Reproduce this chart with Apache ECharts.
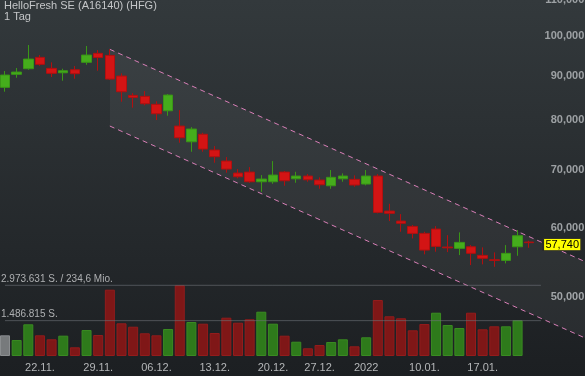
<!DOCTYPE html>
<html>
<head>
<meta charset="utf-8">
<script src="https://cdn.jsdelivr.net/npm/echarts@6/dist/echarts.min.js"></script>
<style>
  html, body { margin: 0; padding: 0; background: #25292c; }
  #main { width: 585px; height: 376px; background: linear-gradient(#33393c, #1c1f22); }
</style>
</head>
<body>
<div id="main"></div>
<script>
// trading days (17.11.2021 - 21.01.2022)
const dates = ['17.11.','18.11.','19.11.','22.11.','23.11.','24.11.','25.11.','26.11.',
  '29.11.','30.11.','01.12.','02.12.','03.12.','06.12.','07.12.','08.12.','09.12.','10.12.',
  '13.12.','14.12.','15.12.','16.12.','17.12.','20.12.','21.12.','22.12.','23.12.',
  '27.12.','28.12.','29.12.','30.12.','03.01.','04.01.','05.01.','06.01.','07.01.',
  '10.01.','11.01.','12.01.','13.01.','14.01.','17.01.','18.01.','19.01.','20.01.','21.01.'];

const tickLabels = {'22.11.':'22.11.','29.11.':'29.11.','06.12.':'06.12.','13.12.':'13.12.',
  '20.12.':'20.12.','27.12.':'27.12.','03.01.':'2022','10.01.':'10.01.','17.01.':'17.01.'};

const opens  = [87.27,90.34,91.70,94.51,91.79,90.72,91.45,93.27,95.53,95.01,89.93,85.42,85.20,83.42,82.00,78.73,
  75.51,77.03,73.87,71.73,69.48,69.66,67.89,67.89,69.66,68.43,68.93,68.20,67.17,68.43,68.32,67.48,
  68.93,62.80,61.15,60.29,59.18,59.87,57.07,56.87,57.11,55.82,55.17,55.08,57.11,57.83];
const closes = [90.17,90.89,94.08,92.77,90.58,91.21,90.49,95.09,94.47,89.21,86.26,84.97,83.55,81.35,85.49,76.32,
  78.11,74.06,72.56,70.22,68.80,67.89,68.38,69.11,68.07,68.93,68.25,67.35,68.69,68.93,67.30,68.93,
  62.58,62.42,60.78,59.18,56.61,57.17,56.95,57.78,56.12,55.38,55.08,56.12,58.81,57.74];
const lows   = [86.26,89.52,91.45,92.43,89.69,88.82,89.29,92.67,91.21,88.98,83.99,82.66,83.19,80.00,80.92,75.31,
  73.53,73.53,71.41,69.54,68.51,67.71,66.11,67.53,67.17,67.71,67.89,66.64,66.64,67.89,66.99,67.24,
  62.42,61.15,59.44,58.40,55.97,56.36,56.31,55.86,54.40,54.50,54.15,54.64,55.76,56.96];
const highs  = [91.14,91.87,97.67,95.09,93.27,91.70,92.35,97.41,96.37,96.55,90.58,85.95,86.41,84.09,85.72,82.15,
  78.52,77.34,74.65,72.50,70.22,70.59,69.11,71.73,69.85,69.72,69.29,68.69,70.04,69.42,69.06,70.04,
  69.29,64.03,62.30,60.51,59.44,60.34,58.91,59.34,57.37,57.02,56.27,57.37,59.71,58.03];

// volume in shares, colour: 1 up, -1 down, 0 unchanged
const volumes = [870000,673000,1333000,870000,702000,855000,366000,1094000,883000,2789000,1375000,1232000,
  955000,870000,1136000,2973631,1430000,1359000,967000,1611000,1401000,1544000,1863000,1359000,854000,
  601000,324000,463000,589000,702000,408000,787000,2355000,1670000,1586000,1081000,1346000,1821000,
  1304000,1178000,1821000,1123000,1249000,1249000,1502000];
const volDir = [0,1,1,-1,-1,1,-1,1,-1,-1,-1,-1,-1,-1,1,-1,1,-1,-1,-1,-1,-1,1,1,-1,1,-1,-1,1,1,-1,1,
  -1,-1,-1,-1,-1,1,1,1,-1,-1,-1,1,1];
const volMax = 2973631;
const volLines = [2973631, 1486815];

// trend channel: [category index, price]
const channelUpper = [[9, 96.55], [50, 54.74]];
const channelLower = [[9, 78.73], [50, 44.68]];

const priceTicks = [50, 60, 70, 80, 90, 100, 110];
const lastPrice = closes[closes.length - 1];

const nCats = 51;
const cats = dates.slice();
while (cats.length < nCats) cats.push('pad' + cats.length);

const L = Math.log;
const fmtPrice = v => v.toFixed(3).replace('.', ',');
const bandW = 11.65;
const gridLeft = 5 - bandW / 2;
const gridRight = 585 - (gridLeft + bandW * nCats);
const priceMin = L(40.5);

const upColor = '#45ad1c', upBorder = '#3a9617';
const downColor = '#d31414', downBorder = '#b01010';

const chart = echarts.init(document.getElementById('main'), null, {renderer: 'canvas'});

chart.setOption({
  animation: false,
  backgroundColor: 'transparent',
  textStyle: {fontFamily: 'Liberation Sans, Arial, sans-serif'},
  grid: [
    {left: gridLeft, right: gridRight, top: 0, bottom: 0, containLabel: false, outerBoundsMode: 'none'},
    {left: gridLeft, right: gridRight, top: 285.3, bottom: 20, containLabel: false, outerBoundsMode: 'none'}
  ],
  xAxis: [
    {type: 'category', gridIndex: 0, data: cats, boundaryGap: true, show: false},
    {
      type: 'category', gridIndex: 1, data: cats, boundaryGap: true,
      axisLine: {show: false}, axisTick: {show: false}, splitLine: {show: false},
      axisLabel: {
        interval: 0, margin: 6, fontSize: 11, color: '#b4b6b8',
        formatter: v => tickLabels[v] || ''
      }
    }
  ],
  yAxis: [
    {
      type: 'value', gridIndex: 0, position: 'right', min: priceMin, max: priceMin + 1,
      axisLine: {show: false}, axisTick: {show: false}, splitLine: {show: false},
      axisLabel: {
        inside: true, margin: 9, fontSize: 11, fontWeight: 'bold', color: '#9da1a4',
        customValues: priceTicks.map(L),
        formatter: v => fmtPrice(Math.exp(v))
      }
    },
    {type: 'value', gridIndex: 1, min: 0, max: volMax, show: false}
  ],
  graphic: [
    {type: 'text', left: 4, top: 0.5, style: {text: 'HelloFresh SE (A16140) (HFG)', fill: '#c4c6c8', fontSize: 11, fontFamily: 'Liberation Sans'}},
    {type: 'text', left: 4, top: 11, style: {text: '1 Tag', fill: '#c4c6c8', fontSize: 11, fontFamily: 'Liberation Sans'}},
    {type: 'text', left: 1, top: 274, style: {text: '2.973.631 S. / 234,6 Mio.', fill: '#aeb0b2', fontSize: 10, fontFamily: 'Liberation Sans'}},
    {type: 'text', left: 1, top: 309, style: {text: '1.486.815 S.', fill: '#aeb0b2', fontSize: 10, fontFamily: 'Liberation Sans'}}
  ],
  series: [
    {
      type: 'line', name: 'bandBase', stack: 'channel', silent: true, symbol: 'none', z: 1,
      data: channelLower.map(p => [p[0], L(p[1])]),
      lineStyle: {opacity: 0}
    },
    {
      type: 'line', name: 'band', stack: 'channel', silent: true, symbol: 'none', z: 1,
      data: channelUpper.map((p, i) => [p[0], L(p[1]) - L(channelLower[i][1])]),
      lineStyle: {opacity: 0},
      areaStyle: {color: 'rgba(255,255,255,0.05)', opacity: 1}
    },
    {
      type: 'line', name: 'upper', silent: true, symbol: 'none', z: 2,
      data: channelUpper.map(p => [p[0], L(p[1])]),
      lineStyle: {color: '#d97fb8', width: 1, type: [5, 4]}
    },
    {
      type: 'line', name: 'lower', silent: true, symbol: 'none', z: 2,
      data: channelLower.map(p => [p[0], L(p[1])]),
      lineStyle: {color: '#d97fb8', width: 1, type: [5, 4]}
    },
    {
      type: 'candlestick', name: 'HFG', xAxisIndex: 0, yAxisIndex: 0, z: 3,
      barWidth: 10,
      data: opens.map((o, i) => [L(o), L(closes[i]), L(lows[i]), L(highs[i])]),
      itemStyle: {
        color: upColor, color0: downColor,
        borderColor: upBorder, borderColor0: downBorder, borderWidth: 1
      },
      markPoint: {
        silent: true,
        symbol: 'rect', symbolSize: [38, 12], symbolOffset: [-2, 2],
        itemStyle: {color: '#ffff00', borderColor: '#2a2a2a', borderWidth: 1},
        label: {show: true, position: 'inside', color: '#000', fontSize: 11, formatter: fmtPrice(lastPrice)},
        data: [{coord: [48, L(lastPrice)], value: lastPrice}]
      }
    },
    {
      type: 'bar', name: 'Volumen', xAxisIndex: 1, yAxisIndex: 1, barWidth: 10, z: 2,
      data: volumes.map((v, i) => ({
        value: v,
        itemStyle: volDir[i] > 0 ? {color: '#2e7a1b', borderColor: '#3a8b22', borderWidth: 1}
          : volDir[i] < 0 ? {color: '#7f1717', borderColor: '#931c1c', borderWidth: 1}
          : {color: '#777a7c', borderColor: '#8a8d8f', borderWidth: 1}
      }))
    }
  ].concat(volLines.map(v => ({
    type: 'line', xAxisIndex: 1, yAxisIndex: 1, silent: true, symbol: 'none', clip: false, z: 3,
    data: [[0, v], [46, v]],
    lineStyle: {color: 'rgba(110,115,120,0.6)', width: 1}
  })))
});
</script>
</body>
</html>
